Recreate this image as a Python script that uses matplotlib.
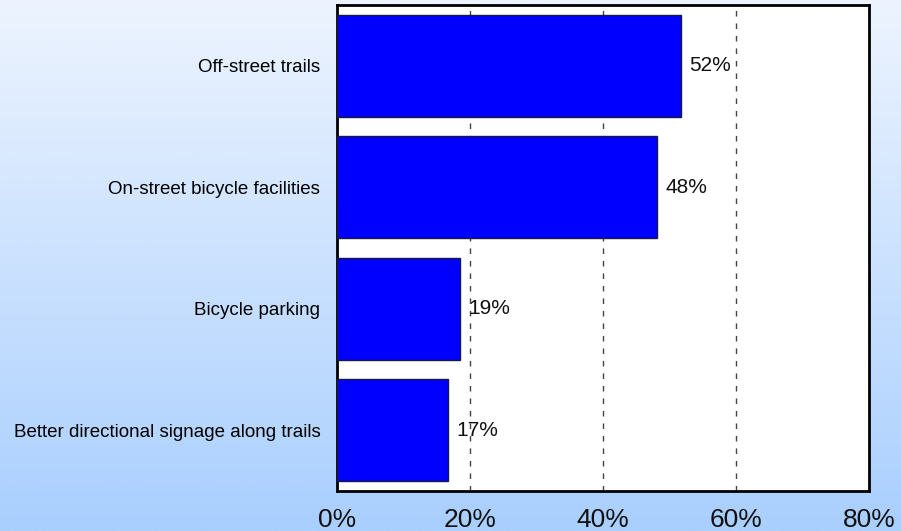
import numpy as np
import matplotlib
matplotlib.use("Agg")
import matplotlib.pyplot as plt
from matplotlib.colors import LinearSegmentedColormap

categories = ["Off-street trails", "On-street bicycle facilities",
              "Bicycle parking", "Better directional signage along trails"]
values = [51.7, 48.1, 18.5, 16.7]
value_labels = ["52%", "48%", "19%", "17%"]
xticks = [0, 20, 40, 60, 80]
xtick_labels = ["0%", "20%", "40%", "60%", "80%"]

plt.rcParams["font.family"] = ["Liberation Sans", "DejaVu Sans"]

fig = plt.figure(figsize=(9.01, 5.31), dpi=100)

# fondo degradado (blanco-azulado arriba, azul claro abajo)
bg = fig.add_axes([0, 0, 1, 1], zorder=-10)
grad = np.linspace(0, 1, 256).reshape(-1, 1)
cmap = LinearSegmentedColormap.from_list("bg", ["#EDF4FE", "#A9CFFE"])
bg.imshow(grad, aspect="auto", cmap=cmap, extent=[0, 1, 0, 1], origin="upper")
bg.axis("off")

ax = fig.add_axes([0.374, 0.0753, 0.5904, 0.9153])
ax.set_facecolor("white")
y = np.arange(len(categories))
ax.barh(y, values, height=0.84, color="#0000FF", edgecolor="#1a1a40",
        linewidth=1.0, zorder=3)
for yi, v, lab in zip(y, values, value_labels):
    ax.text(v + 1.3, yi, lab, va="center", ha="left", fontsize=15,
            color="#111111", zorder=4)

for gx in [20, 40, 60]:
    ax.axvline(gx, color="#444444", lw=1.0, ls=(0, (4, 5)), zorder=1)

ax.set_xlim(0, 80)
ax.set_ylim(3.5, -0.5)
ax.set_yticks(y)
ax.set_yticklabels(categories, fontsize=13.5)
ax.set_xticks(xticks)
ax.set_xticklabels(xtick_labels, fontsize=19, color="#111111")
ax.tick_params(axis="both", length=0)
ax.tick_params(axis="y", pad=12)
ax.tick_params(axis="x", pad=12)
for s in ax.spines.values():
    s.set_linewidth(2.0)
    s.set_color("black")

fig.savefig("out.png", dpi=100)
